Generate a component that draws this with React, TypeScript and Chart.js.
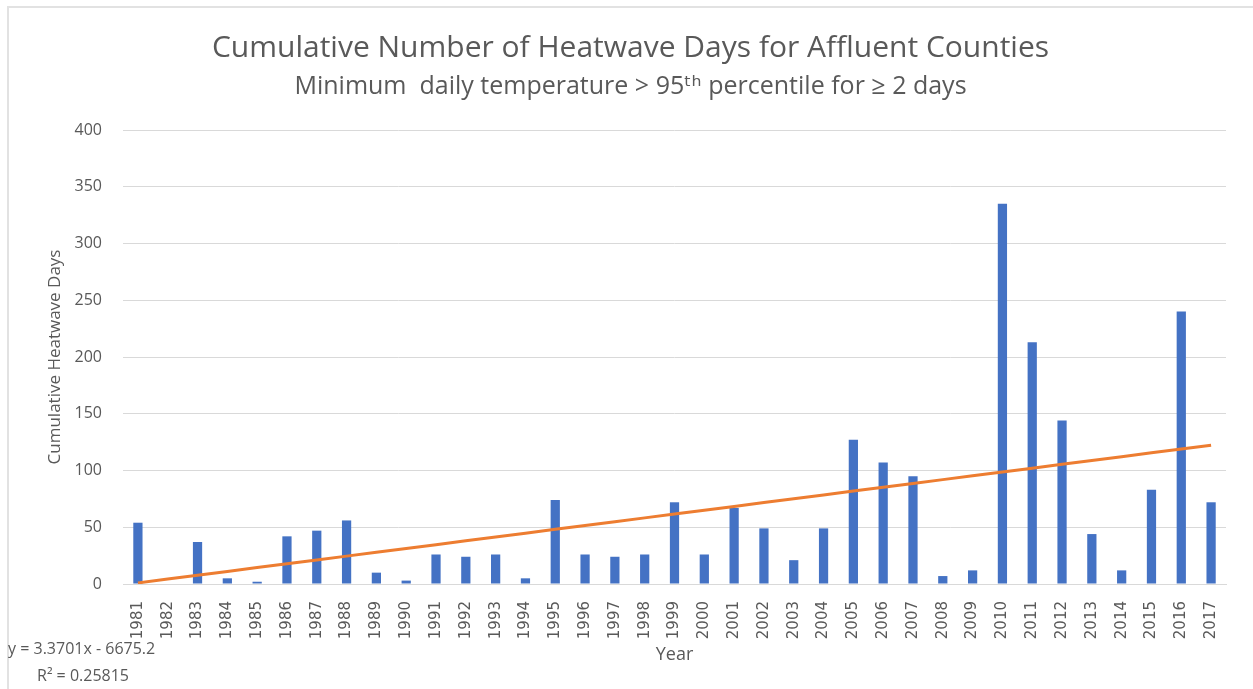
import React, { useEffect, useRef } from "react";
import { Chart, registerables } from "chart.js";

Chart.register(...registerables);

const years: string[] = [
  "1981", "1982", "1983", "1984", "1985", "1986", "1987", "1988", "1989", "1990",
  "1991", "1992", "1993", "1994", "1995", "1996", "1997", "1998", "1999", "2000",
  "2001", "2002", "2003", "2004", "2005", "2006", "2007", "2008", "2009", "2010",
  "2011", "2012", "2013", "2014", "2015", "2016", "2017",
];

const heatwaveDays: number[] = [
  54, 0, 37, 5, 2, 42, 47, 56, 10, 3,
  26, 24, 26, 5, 74, 26, 24, 26, 72, 26,
  67, 49, 21, 49, 127, 107, 95, 7, 12, 335,
  213, 144, 44, 12, 83, 240, 72,
];

const trendSlope = 3.3701;
const trendIntercept = -6675.2;
const equationText = "y = 3.3701x - 6675.2";
const r2Text = "R² = 0.25815";

const titleText = "Cumulative Number of Heatwave Days for Affluent Counties";
const subtitleText = "Minimum  daily temperature > 95ᵗʰ percentile for ≥ 2 days";
const yAxisTitle = "Cumulative Heatwave Days";
const xAxisTitle = "Year";

const textGray = "#595959";
const font = "'Open Sans', 'DejaVu Sans', sans-serif";

const equationPlugin = {
  id: "equationText",
  afterDraw(chart: any) {
    const ctx = chart.ctx;
    ctx.save();
    ctx.fillStyle = textGray;
    ctx.font = `16px ${font}`;
    ctx.textAlign = "left";
    ctx.textBaseline = "middle";
    ctx.fillText(equationText, 0, 641);
    ctx.fillText(r2Text, 29, 668);
    ctx.restore();
  },
};

export default function App() {
  const canvasRef = useRef<HTMLCanvasElement | null>(null);

  useEffect(() => {
    if (!canvasRef.current) return;
    const trend = years.map((y) => trendSlope * Number(y) + trendIntercept);
    const chart = new Chart(canvasRef.current, {
      type: "bar",
      data: {
        labels: years,
        datasets: [
          {
            type: "line",
            label: "Linear trend",
            data: trend,
            borderColor: "#ED7D31",
            backgroundColor: "#ED7D31",
            borderWidth: 3,
            pointRadius: 0,
            tension: 0,
            order: 0,
          } as any,
          {
            type: "bar",
            label: "Cumulative Heatwave Days",
            data: heatwaveDays,
            backgroundColor: "#4472C4",
            categoryPercentage: 1,
            barPercentage: 0.31,
            order: 1,
          },
        ],
      },
      options: {
        responsive: false,
        animation: false,
        layout: { padding: { left: 0, right: 0, top: 0, bottom: 0 } },
        plugins: {
          legend: { display: false },
          tooltip: { enabled: false },
          title: {
            display: true,
            text: titleText,
            color: textGray,
            font: { family: font, size: 30, weight: "normal" },
            padding: { top: 22, bottom: 6 },
          },
          subtitle: {
            display: true,
            text: subtitleText,
            color: textGray,
            font: { family: font, size: 25, weight: "normal" },
            padding: { top: 0, bottom: 28 },
          },
        },
        scales: {
          x: {
            grid: { display: false },
            border: { display: true, color: "#d9d9d9" },
            ticks: {
              color: textGray,
              font: { family: "'DejaVu Sans', sans-serif", size: 15 },
              minRotation: 90,
              maxRotation: 90,
              autoSkip: false,
              padding: 9,
            },
            title: {
              display: true,
              text: xAxisTitle,
              color: textGray,
              font: { family: font, size: 18 },
              padding: { top: 0, bottom: 23 },
            },
            afterFit(scale: any) {
              scale.height = 105;
            },
          },
          y: {
            min: 0,
            max: 400,
            ticks: {
              stepSize: 50,
              color: textGray,
              font: { family: font, size: 16 },
              padding: 21,
            },
            grid: { color: "#d9d9d9", drawTicks: false },
            border: { display: false },
            title: {
              display: true,
              text: yAxisTitle,
              color: textGray,
              font: { family: font, size: 17 },
              padding: { top: 37, bottom: 0 },
            },
            afterFit(scale: any) {
              scale.width = 115;
            },
          },
          yRightSpace: {
            position: "right",
            display: true,
            grid: { display: false },
            border: { display: false },
            ticks: { display: false },
            afterFit(scale: any) {
              scale.width = 27;
            },
          },
        },
      },
      plugins: [equationPlugin],
    });
    return () => chart.destroy();
  }, []);

  return (
    <>
      <div
        style={{
          position: "absolute",
          left: 7,
          top: 6,
          width: 1246,
          height: 683,
          boxSizing: "border-box",
          borderTop: "2px solid #e2e2e2",
          borderLeft: "2px solid #e2e2e2",
        }}
      />
      <div style={{ position: "absolute", left: 8, top: 8, width: 1245, height: 681 }}>
        <canvas ref={canvasRef} width={1245} height={681} />
      </div>
    </>
  );
}
